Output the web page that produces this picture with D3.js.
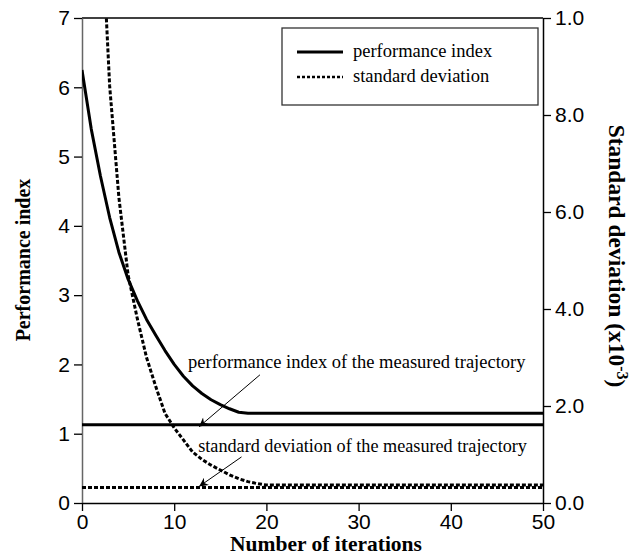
<!DOCTYPE html>
<html>
<head>
<meta charset="utf-8">
<script src="https://cdn.jsdelivr.net/npm/d3@7"></script>
<style>
  html, body { margin: 0; padding: 0; background: #fff; }
  svg { display: block; }
</style>
</head>
<body>
<svg id="chart" width="639" height="556"></svg>
<script>
// Iterations and per-iteration values of the two learning curves
const iterations = d3.range(0, 51);
const perfHead = [6.25, 5.4, 4.72, 4.12, 3.62, 3.23, 2.92, 2.65, 2.42, 2.2,
                  2.0, 1.83, 1.69, 1.58, 1.49, 1.42, 1.36, 1.31, 1.295];
const perfTail = 1.295;
const stdHead = [20.0, 16.0, 12.5, 8.6, 6.3, 4.7, 3.8, 3.0, 2.4, 1.85,
                 1.55, 1.3, 1.05, 0.9, 0.78, 0.68, 0.58, 0.5, 0.44, 0.4, 0.37];
const stdTail = 0.37;
const performanceIndex = iterations.map(i => i < perfHead.length ? perfHead[i] : perfTail);
const standardDeviation = iterations.map(i => i < stdHead.length ? stdHead[i] : stdTail);

// Reference values of the measured trajectory
const measuredPerformance = 1.13;
const measuredStd = 0.32;

// Axis ticks
const xTicks = [0, 10, 20, 30, 40, 50];
const leftTicks = [0, 1, 2, 3, 4, 5, 6, 7];
const rightTicks = [0, 2, 4, 6, 8, 10];
const rightTickLabels = ["0.0", "2.0", "4.0", "6.0", "8.0", "1.0"];

const svg = d3.select("#chart");
const plotLeft = 82, plotRight = 543, plotTop = 18, plotBottom = 503;

const x = d3.scaleLinear().domain([0, 50]).range([plotLeft, plotRight]);
const yL = d3.scaleLinear().domain([0, 7]).range([plotBottom, plotTop]);
const yR = d3.scaleLinear().domain([0, 10]).range([plotBottom, plotTop]);

const sans = "'Liberation Sans', Arial, sans-serif";
const serif = "'Liberation Serif', 'Times New Roman', serif";

const defs = svg.append("defs");
defs.append("clipPath").attr("id", "plotClip")
  .append("rect").attr("x", plotLeft).attr("y", plotTop)
  .attr("width", plotRight - plotLeft).attr("height", plotBottom - plotTop);

defs.append("marker")
  .attr("id", "arrowHead")
  .attr("viewBox", "0 0 10 10")
  .attr("refX", 10).attr("refY", 5)
  .attr("markerWidth", 14).attr("markerHeight", 9)
  .attr("markerUnits", "userSpaceOnUse")
  .attr("orient", "auto")
  .append("path").attr("d", "M0,0 L10,5 L0,10 L3,5 Z").attr("fill", "#000");

// Top frame line
svg.append("line")
  .attr("x1", plotLeft).attr("x2", plotRight).attr("y1", plotTop).attr("y2", plotTop)
  .attr("stroke", "#000").attr("stroke-width", 1.5);

// Axes
function styleAxis(g, domainColor) {
  g.selectAll("path.domain").attr("stroke", domainColor).attr("stroke-width", 1.5);
  g.selectAll(".tick line").attr("stroke", "#000").attr("stroke-width", 1.3);
  g.selectAll(".tick text").attr("fill", "#000").style("font-family", sans).style("font-size", "21px");
}

svg.append("g").attr("transform", `translate(${plotLeft},0)`)
  .call(d3.axisLeft(yL).tickValues(leftTicks).tickFormat(d3.format("d"))
    .tickSize(8).tickSizeOuter(0).tickPadding(4))
  .call(g => styleAxis(g, "#666"));

svg.append("g").attr("transform", `translate(${plotRight},0)`)
  .call(d3.axisRight(yR).tickValues(rightTicks).tickFormat((d, i) => rightTickLabels[i])
    .tickSize(8).tickSizeOuter(0).tickPadding(4))
  .call(g => styleAxis(g, "#000"));

svg.append("g").attr("transform", `translate(0,${plotBottom})`)
  .call(d3.axisBottom(x).tickValues(xTicks).tickFormat(d3.format("d"))
    .tickSize(8).tickSizeOuter(0).tickPadding(3))
  .call(g => styleAxis(g, "#000"));

// Axis titles
svg.append("text")
  .attr("transform", `translate(30,260) rotate(-90)`)
  .attr("text-anchor", "middle")
  .style("font-family", serif).style("font-weight", "bold").style("font-size", "20px")
  .text("Performance index");

const rTitle = svg.append("text")
  .attr("transform", `translate(609,256) rotate(90)`)
  .attr("text-anchor", "middle")
  .style("font-family", serif).style("font-weight", "bold").style("font-size", "23.5px");
rTitle.append("tspan").text("Standard deviation (x10");
rTitle.append("tspan").attr("dy", -8).style("font-size", "16px").text("-3");
rTitle.append("tspan").attr("dy", 8).text(")");

svg.append("text")
  .attr("x", 326).attr("y", 551)
  .attr("text-anchor", "middle")
  .style("font-family", serif).style("font-weight", "bold").style("font-size", "21.5px")
  .text("Number of iterations");

// Curves
const plot = svg.append("g").attr("clip-path", "url(#plotClip)");

const perfLine = d3.line().x((d, i) => x(iterations[i])).y(d => yL(d));
const stdLine = d3.line().x((d, i) => x(iterations[i])).y(d => yR(d));

plot.append("line")
  .attr("x1", x(0)).attr("x2", x(50))
  .attr("y1", yL(measuredPerformance)).attr("y2", yL(measuredPerformance))
  .attr("stroke", "#000").attr("stroke-width", 3);

plot.append("line")
  .attr("x1", x(0)).attr("x2", x(50))
  .attr("y1", yR(measuredStd)).attr("y2", yR(measuredStd))
  .attr("stroke", "#000").attr("stroke-width", 3).attr("stroke-dasharray", "4,2");

plot.append("path").datum(performanceIndex)
  .attr("d", perfLine).attr("fill", "none")
  .attr("stroke", "#000").attr("stroke-width", 3).attr("stroke-linejoin", "round");

plot.append("path").datum(standardDeviation)
  .attr("d", stdLine).attr("fill", "none")
  .attr("stroke", "#000").attr("stroke-width", 3).attr("stroke-dasharray", "4,2");

// Annotations
svg.append("text")
  .attr("x", x(11.5)).attr("y", yL(1.95))
  .style("font-family", serif).style("font-size", "18.5px")
  .text("performance index of the measured trajectory");

svg.append("line")
  .attr("x1", x(19.3)).attr("y1", yL(1.85))
  .attr("x2", x(12.7)).attr("y2", yL(measuredPerformance) + 2)
  .attr("stroke", "#000").attr("stroke-width", 1)
  .attr("marker-end", "url(#arrowHead)");

svg.append("text")
  .attr("x", x(12.6)).attr("y", yR(1.05))
  .style("font-family", serif).style("font-size", "18.2px")
  .text("standard deviation of the measured trajectory");

svg.append("line")
  .attr("x1", x(17.3)).attr("y1", yR(0.95))
  .attr("x2", x(12.7)).attr("y2", yR(measuredStd) - 1)
  .attr("stroke", "#000").attr("stroke-width", 1)
  .attr("marker-end", "url(#arrowHead)");

// Legend
const legend = svg.append("g");
legend.append("rect")
  .attr("x", 282).attr("y", 28).attr("width", 256).attr("height", 77)
  .attr("fill", "#fff").attr("stroke", "#333").attr("stroke-width", 1.3);

const legendItems = [
  { label: "performance index", dash: null, width: 3 },
  { label: "standard deviation", dash: "3,2", width: 2.5 }
];
legendItems.forEach((item, i) => {
  const yy = 52 + i * 25;
  legend.append("line")
    .attr("x1", 297).attr("x2", 343).attr("y1", yy).attr("y2", yy)
    .attr("stroke", "#000").attr("stroke-width", item.width)
    .attr("stroke-dasharray", item.dash);
  legend.append("text")
    .attr("x", 353).attr("y", yy + 5)
    .style("font-family", serif).style("font-size", "18.5px")
    .text(item.label);
});
</script>
</body>
</html>
